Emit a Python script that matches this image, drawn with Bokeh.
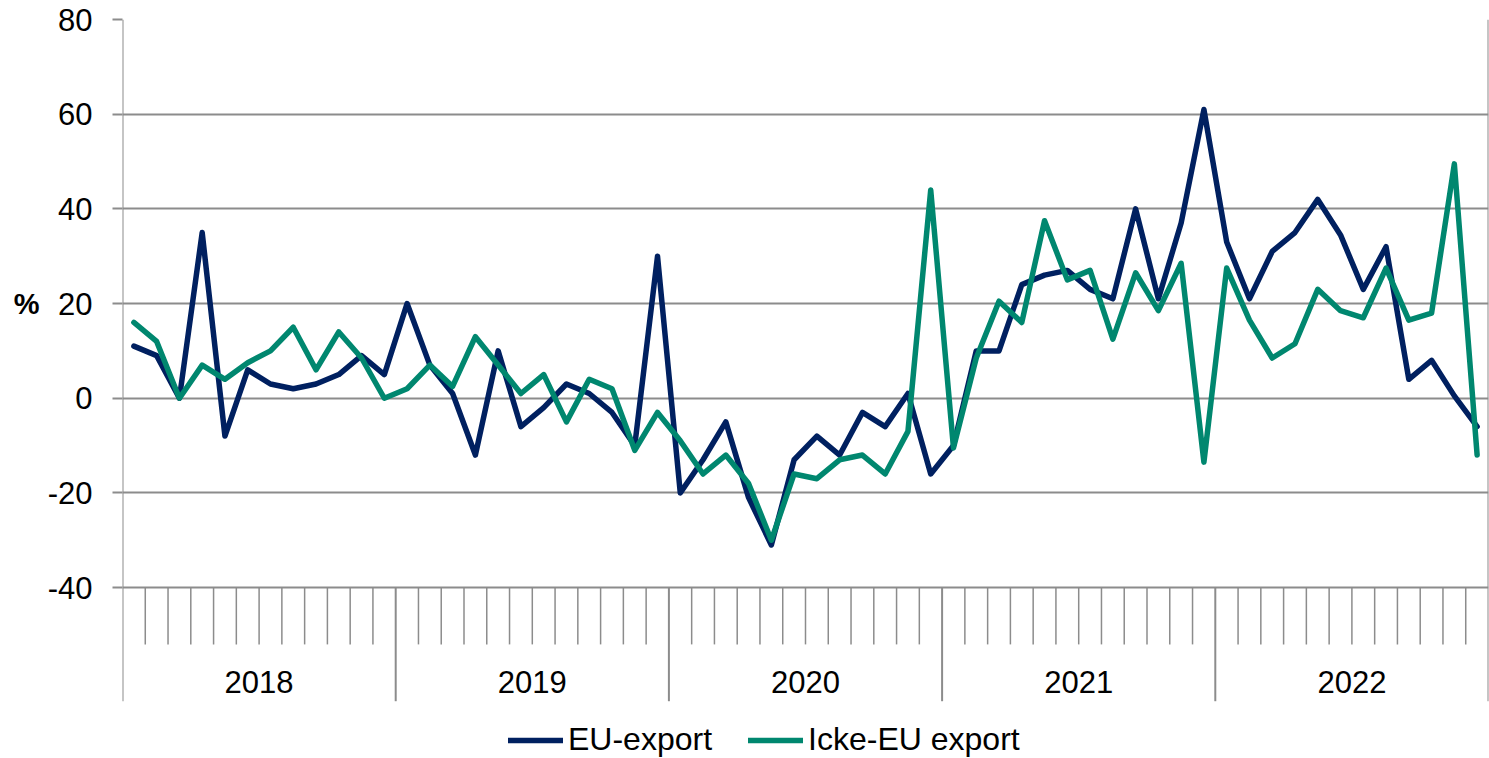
import numpy as np
from bokeh.plotting import figure
from bokeh.models import (FixedTicker, LinearAxis, Legend, LegendItem, Range1d, Grid)
from bokeh.core.properties import value
from bokeh.embed import file_html
from bokeh.resources import INLINE

# ---- data ----
years = ["2018", "2019", "2020", "2021", "2022"]
months_per_year = 12
eu_export = [11, 9, 0, 35, -8, 6, 3, 2, 3, 5, 9, 5,
             20, 7, 1, -12, 10, -6, -2, 3, 1, -3, -10, 30,
             -20, -13, -5, -21, -31, -13, -8, -12, -3, -6, 1, -16,
             -10, 10, 10, 24, 26, 27, 23, 21, 40, 21, 37, 61,
             33, 21, 31, 35, 42, 34.5, 23, 32, 4, 8, 0.5, -6]
non_eu_export = [16, 12, 0, 7, 4, 7.5, 10, 15, 6, 14, 8.5, 0,
                 2, 7, 2.5, 13, 7, 1, 5, -5, 4, 2, -11, -3,
                 -9, -16, -12, -18, -30, -16, -17, -13, -12, -16, -7, 44,
                 -10.5, 8.5, 20.5, 16, 37.5, 25, 27, 12.5, 26.5, 18.5, 28.5, -13.5,
                 27.5, 16.5, 8.5, 11.5, 23, 18.5, 17, 27.5, 16.5, 18, 49.5, -12]
y_ticks = [-40, -20, 0, 20, 40, 60, 80]
y_tick_labels = {t: str(t) for t in y_ticks}  # plain hyphen minus as in the original

NAVY = "#002060"
TEAL = "#00876F"
GRID = "#8c8c8c"
FONT = "Liberation Sans"

n = len(eu_export)
x_mid = np.arange(n) + 0.5
y_min, y_max = y_ticks[0], y_ticks[-1]
month_tick_len = 12
year_tick_len = 24

p = figure(width=1489, height=758, x_range=Range1d(0, n),
           y_range=Range1d(-76.1, y_max), x_axis_type=None, y_axis_type=None,
           output_backend="svg", toolbar_location=None,
           min_border_left=122, min_border_top=19, min_border_right=1,
           min_border_bottom=0)
p.outline_line_color = None
p.background_fill_color = "white"

grid = Grid(dimension=1, ticker=FixedTicker(ticks=y_ticks),
            grid_line_color=GRID, grid_line_width=2)
p.add_layout(grid)

yaxis = LinearAxis(ticker=FixedTicker(ticks=y_ticks), axis_line_color=None,
                   major_label_overrides=y_tick_labels,
                   major_tick_out=10, major_tick_in=0, minor_tick_line_color=None,
                   major_tick_line_color=GRID, major_tick_line_width=2,
                   major_label_standoff=20, major_label_text_font=FONT,
                   major_label_text_font_size="31px", major_label_text_color="black")
p.add_layout(yaxis, "left")

pct_axis = LinearAxis(ticker=FixedTicker(ticks=[20]), major_label_overrides={20: "%"},
                      axis_line_color=None, major_tick_line_color=None,
                      minor_tick_line_color=None, major_tick_out=0, major_tick_in=0,
                      major_label_standoff=5, major_label_text_font=FONT,
                      major_label_text_font_style="bold",
                      major_label_text_font_size="29px", major_label_text_color="black")
p.add_layout(pct_axis, "left")

# category axis ticks
bounds = np.arange(n + 1)
month_b = [b for b in bounds if b % months_per_year != 0]
year_b = [b for b in bounds if b % months_per_year == 0]
p.segment(x0=month_b, y0=[y_min] * len(month_b), x1=month_b,
          y1=[y_min - month_tick_len] * len(month_b), line_color=GRID, line_width=1.5)
edge_top = [y_max if (b == 0 or b == n) else y_min for b in year_b]
p.segment(x0=year_b, y0=edge_top, x1=year_b,
          y1=[y_min - year_tick_len] * len(year_b), line_color=GRID, line_width=2)

year_centers = [i * months_per_year + months_per_year / 2 for i in range(len(years))]
p.text(x=year_centers, y=[y_min - 20] * len(years), text=years, text_align="center",
       text_baseline="middle", text_font=value(FONT), text_font_size="31px",
       text_color="black")

r1 = p.line(x_mid, eu_export, line_color=NAVY, line_width=5.5,
            line_join="round", line_cap="round")
r2 = p.line(x_mid, non_eu_export, line_color=TEAL, line_width=5.5,
            line_join="round", line_cap="round")

legend = Legend(items=[LegendItem(label="EU-export", renderers=[r1]),
                       LegendItem(label="Icke-EU export", renderers=[r2])],
                orientation="horizontal", location=(386, 0),
                glyph_width=55, glyph_height=20, label_standoff=5, spacing=36,
                padding=0, margin=0, border_line_color=None,
                background_fill_alpha=0, label_text_font=FONT,
                label_text_font_size="32px", label_text_color="black")
p.add_layout(legend)

open("out.html", "w").write(file_html(p, INLINE))
